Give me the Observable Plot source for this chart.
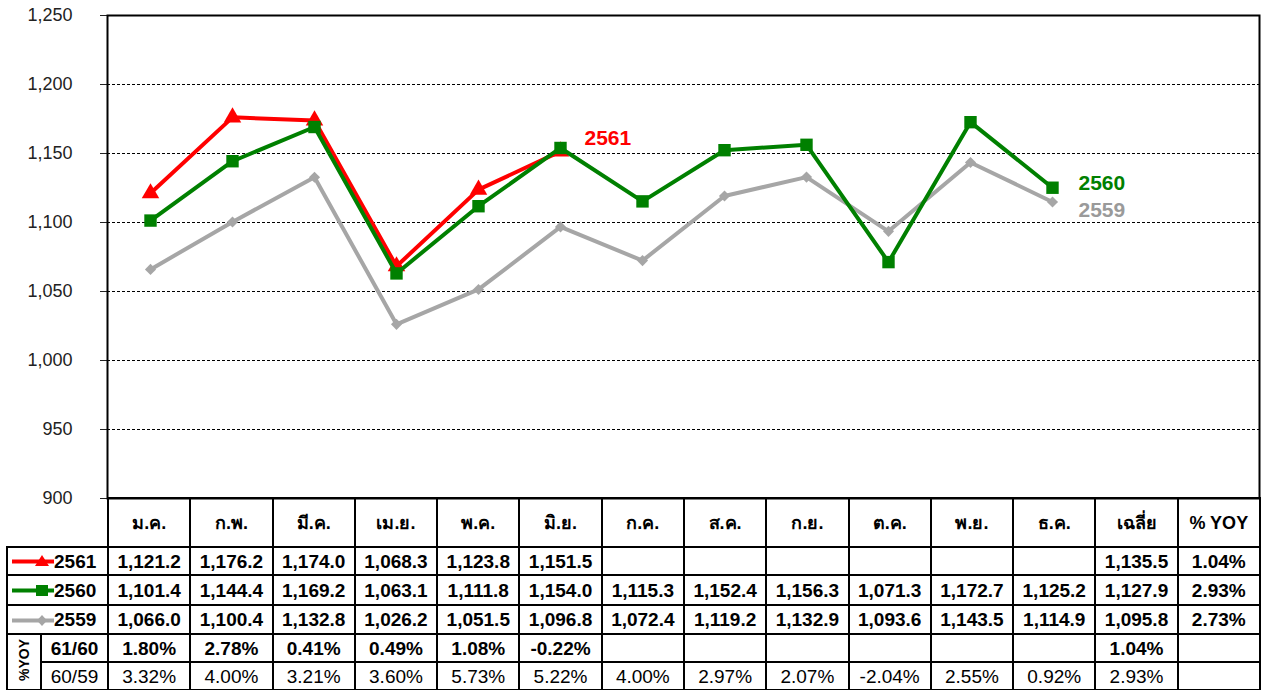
<!DOCTYPE html>
<html><head><meta charset="utf-8">
<script src="https://cdn.jsdelivr.net/npm/d3@7"></script>
<script src="https://cdn.jsdelivr.net/npm/@observablehq/plot@0.6"></script>
<style>
body{margin:0;background:#fff;font-family:"Liberation Sans",Arial,"Noto Sans",sans-serif;}
#wrap{position:relative;width:1266px;height:690px;overflow:hidden;background:#fff}
#chart{position:absolute;left:0;top:0}
table{position:absolute;left:6px;top:497px;border-collapse:collapse;table-layout:fixed;width:1253px}
td{border:2px solid #000;padding:0;text-align:center;font-weight:bold;font-size:19px;color:#000;white-space:nowrap;overflow:hidden;line-height:1}
td.lab{text-align:left;padding-left:2px}
td.lab svg{vertical-align:middle;margin-right:0}
td.lab span{vertical-align:middle}
td.sub2{font-weight:normal}
.rot{display:inline-block;writing-mode:vertical-rl;transform:rotate(180deg);font-size:14px;font-weight:bold;white-space:nowrap}
</style></head>
<body><div id="wrap"><div id="chart"></div><table id="tbl"></table></div>
<script>
const months = ["ม.ค.","ก.พ.","มี.ค.","เม.ย.","พ.ค.","มิ.ย.","ก.ค.","ส.ค.","ก.ย.","ต.ค.","พ.ย.","ธ.ค."];
const extraCols = ["เฉลี่ย","% YOY"];
const series = ["2561","2560","2559"];
const v2561 = [1121.2,1176.2,1174.0,1068.3,1123.8,1151.5];
const v2560 = [1101.4,1144.4,1169.2,1063.1,1111.8,1154.0,1115.3,1152.4,1156.3,1071.3,1172.7,1125.2];
const v2559 = [1066.0,1100.4,1132.8,1026.2,1051.5,1096.8,1072.4,1119.2,1132.9,1093.6,1143.5,1114.9];
const avgValues = [1135.5,1127.9,1095.8];
const yoyValues = [1.04,2.93,2.73];
const yoyLabels = ["61/60","60/59"];
const yoy6160 = [1.80,2.78,0.41,0.49,1.08,-0.22];
const yoy6059 = [3.32,4.00,3.21,3.60,5.73,5.22,4.00,2.97,2.07,-2.04,2.55,0.92];
const yoyAvg = [1.04,2.93];
const yTicks = [900,950,1000,1050,1100,1150,1200,1250];
const colors = {"2561":"#ff0000","2560":"#008000","2559":"#a6a6a6"};
const labelColors = {"2561":"#ff0000","2560":"#008000","2559":"#9a9a9a"};

const toRows = (vals, s) => vals.map((v,i)=>({month:months[i], value:v, series:s}));
const d2561 = toRows(v2561,"2561"), d2560 = toRows(v2560,"2560"), d2559 = toRows(v2559,"2559");

const chart = Plot.plot({
  width:1266, height:520,
  marginLeft:107, marginRight:7, marginTop:15, marginBottom:22,
  style:{fontFamily:'"Liberation Sans",Arial,sans-serif', fontSize:"18px", color:"#222", background:"transparent"},
  x:{type:"point", domain:[...months,...extraCols], padding:0.5, axis:null},
  y:{domain:[900,1250], ticks:yTicks, tickFormat:d3.format(","), tickSize:7, tickPadding:28, label:null},
  marks:[
    Plot.ruleY(yTicks.filter(d=>d>900&&d<1250), {stroke:"#000", strokeDasharray:"3,2", strokeWidth:1}),
    Plot.frame({stroke:"#000", strokeWidth:2}),
    Plot.line(d2559, {x:"month", y:"value", stroke:colors["2559"], strokeWidth:4}),
    Plot.dot(d2559, {x:"month", y:"value", symbol:"diamond2", r:5, fill:colors["2559"], stroke:"none"}),
    Plot.line(d2561, {x:"month", y:"value", stroke:colors["2561"], strokeWidth:4}),
    Plot.dot(d2561, {x:"month", y:"value", symbol:"triangle", r:6.5, fill:colors["2561"], stroke:"none"}),
    Plot.line(d2560, {x:"month", y:"value", stroke:colors["2560"], strokeWidth:4}),
    Plot.dot(d2560, {x:"month", y:"value", symbol:"square", r:7, fill:colors["2560"], stroke:"none"}),
    Plot.text([d2561[d2561.length-1]], {x:"month", y:"value", text:"series", dx:24, dy:-13, textAnchor:"start", fill:labelColors["2561"], fontWeight:"bold", fontSize:21}),
    Plot.text([d2560[d2560.length-1]], {x:"month", y:"value", text:"series", dx:26, dy:-4, textAnchor:"start", fill:labelColors["2560"], fontWeight:"bold", fontSize:21}),
    Plot.text([d2559[d2559.length-1]], {x:"month", y:"value", text:"series", dx:26, dy:8, textAnchor:"start", fill:labelColors["2559"], fontWeight:"bold", fontSize:21})
  ]
});
document.getElementById("chart").appendChild(chart);

// table
const fmt1 = d3.format(",.1f");
const pct = v => v.toFixed(2) + "%";
const tbl = document.getElementById("tbl");
const cg = document.createElement("colgroup");
[34,67].concat(Array(14).fill(1152/14)).forEach(w=>{const c=document.createElement("col");c.style.width=w+"px";cg.appendChild(c);});
tbl.appendChild(cg);
function row(h){const tr=document.createElement("tr");tr.style.height=h+"px";tbl.appendChild(tr);return tr;}
function cell(tr, html, opts={}){const td=document.createElement("td");td.innerHTML=html;if(opts.colspan)td.colSpan=opts.colspan;if(opts.rowspan)td.rowSpan=opts.rowspan;if(opts.cls)td.className=opts.cls;if(opts.style)Object.assign(td.style,opts.style);tr.appendChild(td);return td;}
// header
let tr=row(49);
cell(tr,"",{colspan:2,style:{borderLeft:"none",borderTop:"none",borderBottom:"2px solid #000"}});
[...months,...extraCols].forEach(m=>cell(tr,m,{style:{fontSize:"18px"}}));
// series rows
const symPath = {"2561":"M32,2 L39,13 L25,13 Z","2560":"M26,3 L38,3 L38,14 L26,14 Z","2559":"M32,3 L37,8.5 L32,14 L27,8.5 Z"};
const heights=[28,30,29];
const vals={"2561":v2561,"2560":v2560,"2559":v2559};
series.forEach((s,si)=>{
  const r=row(heights[si]);
  const sw=`<svg width="44" height="17"><line x1="2" x2="44" y1="8.5" y2="8.5" stroke="${colors[s]}" stroke-width="4"/><path d="${symPath[s]}" fill="${colors[s]}"/></svg>`;
  cell(r, sw+`<span>${s}</span>`, {colspan:2, cls:"lab"});
  months.forEach((m,i)=>cell(r, vals[s][i]!=null?fmt1(vals[s][i]):""));
  cell(r, fmt1(avgValues[si]));
  cell(r, pct(yoyValues[si]));
});
// yoy rows
const yoyRows=[yoy6160,yoy6059];
yoyLabels.forEach((lab,li)=>{
  const r=row(28);
  const cls = li===0 ? "" : "sub2";
  if(li===0) cell(r,'<span class="rot">%YOY</span>',{rowspan:2});
  cell(r,lab,{cls});
  months.forEach((m,i)=>cell(r, yoyRows[li][i]!=null?pct(yoyRows[li][i]):"",{cls}));
  cell(r,pct(yoyAvg[li]),{cls});
  cell(r,"",{cls});
});
</script></body></html>
